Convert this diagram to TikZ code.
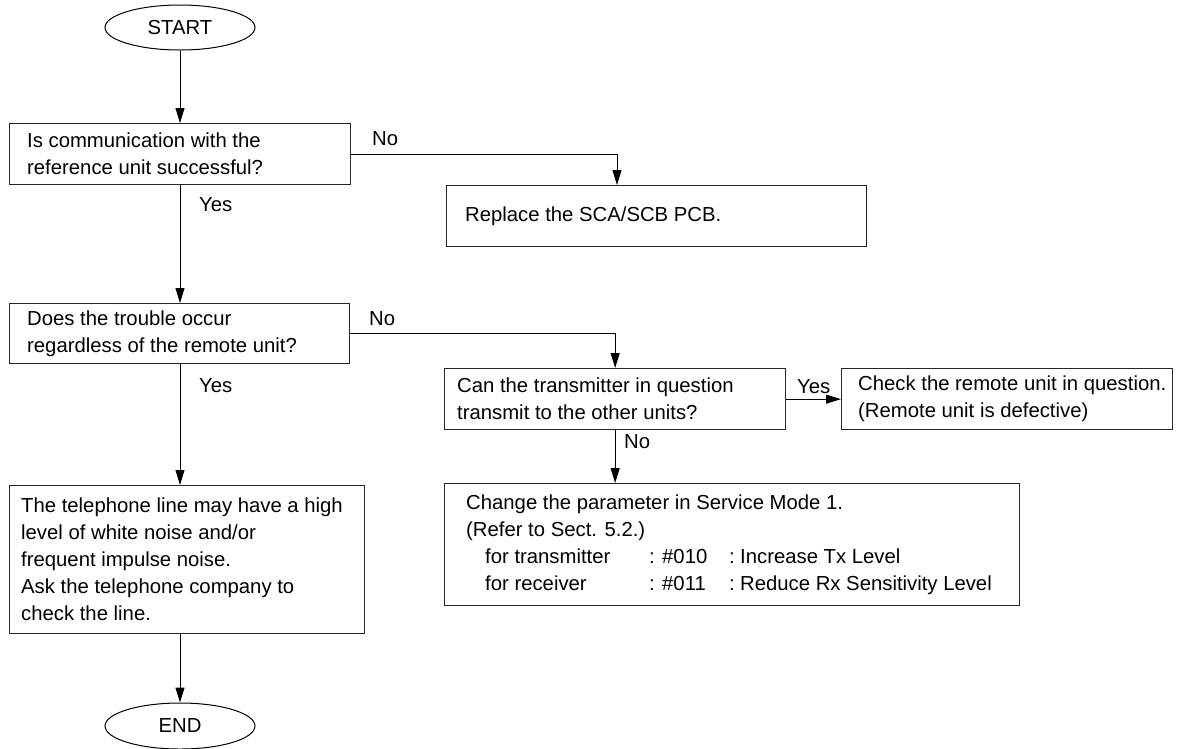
\documentclass[tikz,border=0pt]{standalone}
\usepackage{fontspec}
\setmainfont{Liberation Sans}
\usetikzlibrary{arrows.meta,shapes.geometric}
\begin{document}
\begin{tikzpicture}[x=1pt,y=-1pt,
  every node/.style={font=\fontsize{20.3}{27}\selectfont, inner sep=0pt},
  box/.style={draw=black!85, line width=1.3pt, rectangle, anchor=north west},
  term/.style={draw, ellipse, line width=1pt, minimum width=150pt, minimum height=45pt},
  txt/.style={anchor=west, align=left},
  lbl/.style={anchor=base west},
  conn/.style={line width=1pt},
  arr/.style={line width=1pt, -{Triangle[length=15pt,width=9pt]}}]
\useasboundingbox (0,0) rectangle (1182,748);

% terminals
\node[term] (start) at (180,27.5) {START};
\node[term, minimum height=46pt] (end) at (180,726) {END};

% boxes
\node[box, minimum width=341pt, minimum height=61pt] (b1) at (9,123) {};
\node[box, minimum width=420pt, minimum height=61pt] (rep) at (446,185) {};
\node[box, minimum width=340pt, minimum height=60pt] (b2) at (9,303) {};
\node[box, minimum width=341pt, minimum height=61pt] (b3) at (444,368) {};
\node[box, minimum width=331pt, minimum height=61pt] (b4) at (841,368) {};
\node[box, minimum width=575pt, minimum height=122pt] (b5) at (444,483) {};
\node[box, minimum width=355pt, minimum height=148pt] (bl) at (9,485) {};

% texts
\node[txt, xshift=18pt] (t1) at (b1.west) {Is communication with the\\reference unit successful?};
\node[txt, xshift=19pt] (trep) at (rep.west) {Replace the SCA/SCB PCB.};
\node[txt, xshift=18pt] (t2) at (b2.west) {Does the trouble occur\\regardless of the remote unit?};
\node[txt, xshift=13pt] (t3) at (b3.west) {Can the transmitter in question\\transmit to the other units?};
\node[txt, xshift=17pt] (t4) at (b4.west) {Check the remote unit in question.\\(Remote unit is defective)};
\node[txt, xshift=22pt] (t5) at (b5.west) {Change the parameter in Service Mode 1.\\
(Refer to Sect. 5.2.)\\
\hspace*{19pt}\makebox[164pt][l]{for transmitter}\makebox[13pt][l]{:}\makebox[67pt][l]{\#010}\makebox[11pt][l]{:}Increase Tx Level\\
\hspace*{19pt}\makebox[164pt][l]{for receiver}\makebox[13pt][l]{:}\makebox[67pt][l]{\#011}\makebox[11pt][l]{:}Reduce Rx Sensitivity Level};
\node[txt, xshift=12pt] (tl) at (bl.west) {The telephone line may have a high\\level of white noise and/or\\frequent impulse noise.\\Ask the telephone company to\\check the line.};

% labels
\node[lbl] (no1) at (372,145) {No};
\node[lbl] (yes1) at (199,211) {Yes};
\node[lbl] (no2) at (369,325) {No};
\node[lbl] (yes2) at (199,392) {Yes};
\node[lbl] (yes3) at (797,393) {Yes};
\node[lbl] (no3) at (624,448) {No};

% connectors
\coordinate (rin) at (617,185);
\draw[arr] (start.south) -- (start.south |- b1.north);
\draw[arr] (start.south |- b1.south) -- (start.south |- b2.north);
\draw[arr] (start.south |- b2.south) -- (start.south |- bl.north);
\draw[arr] (start.south |- bl.south) -- (end.north);
\draw[arr] (b1.east) -| (rin);
\draw[arr] (b2.east) -| (b3.north);
\draw[arr] (b3.east) -- (b4.west);
\draw[arr] (b3.south) -- (b3.south |- b5.north);
\end{tikzpicture}
\end{document}
